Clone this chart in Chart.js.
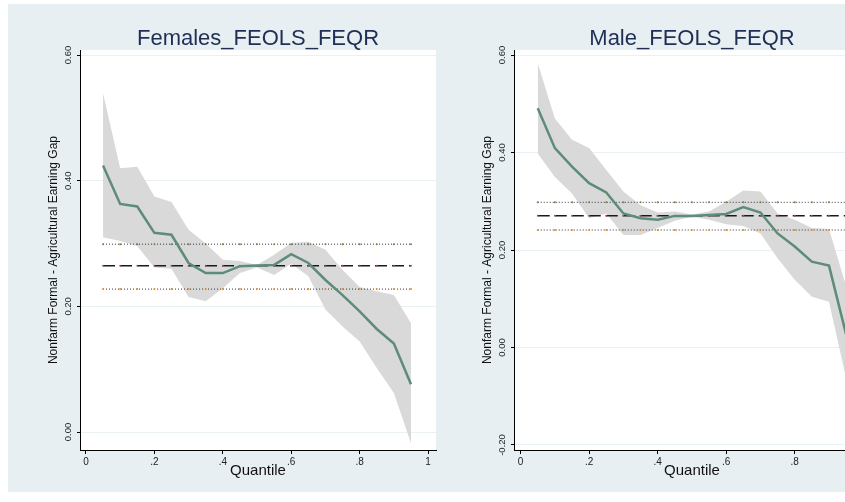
<!DOCTYPE html>
<html lang="en">
<head>
    <meta charset="UTF-8">
    <title>FEOLS vs FEQR earning gap</title>
    <script src="https://cdn.jsdelivr.net/npm/chart.js"></script>
    <style>
        html, body { margin: 0; background: #fff; overflow: hidden; width: 845px; height: 502px; }
        .panel { position: absolute; top: 4px; height: 488px; }
    </style>
</head>
<body>
    <div class="panel" style="left:8px;width:432px"><canvas id="fem" width="432" height="488"></canvas></div>
    <div class="panel" style="left:440px;width:434px"><canvas id="male" width="434" height="488"></canvas></div>
    <script>
        // quantiles used in the regressions
        const quantiles = [0.05, 0.10, 0.15, 0.20, 0.25, 0.30, 0.35, 0.40, 0.45, 0.50,
                           0.55, 0.60, 0.65, 0.70, 0.75, 0.80, 0.85, 0.90, 0.95];
        const xTicks = [0, 0.2, 0.4, 0.6, 0.8, 1];

        // Females: FEQR estimate and its confidence band
        const femEst = [0.424, 0.363, 0.359, 0.317, 0.314, 0.269, 0.253, 0.253, 0.264, 0.265,
                        0.266, 0.283, 0.269, 0.242, 0.218, 0.192, 0.164, 0.141, 0.076];
        const femHi  = [0.539, 0.420, 0.422, 0.375, 0.366, 0.322, 0.300, 0.274, 0.272, 0.266,
                        0.282, 0.301, 0.303, 0.290, 0.258, 0.231, 0.224, 0.218, 0.173];
        const femLo  = [0.310, 0.304, 0.296, 0.262, 0.260, 0.215, 0.208, 0.229, 0.253, 0.262,
                        0.250, 0.268, 0.248, 0.195, 0.168, 0.144, 0.102, 0.062, -0.018];
        // Females: FEOLS estimate and its bounds
        const femOls = 0.2646, femOlsHi = 0.299, femOlsLo = 0.2275;
        const femYTicks = [0, 0.2, 0.4, 0.6];

        // Males
        const maleEst = [0.491, 0.409, 0.371, 0.337, 0.318, 0.275, 0.265, 0.262, 0.270, 0.270,
                         0.272, 0.274, 0.288, 0.277, 0.234, 0.207, 0.176, 0.168, 0.027];
        const maleHi  = [0.583, 0.470, 0.426, 0.409, 0.364, 0.320, 0.292, 0.277, 0.279, 0.273,
                         0.279, 0.299, 0.322, 0.320, 0.275, 0.262, 0.245, 0.243, 0.126];
        const maleLo  = [0.398, 0.350, 0.316, 0.265, 0.275, 0.231, 0.231, 0.245, 0.260, 0.268,
                         0.262, 0.253, 0.249, 0.234, 0.183, 0.139, 0.104, 0.094, -0.063];
        const maleOls = 0.2704, maleOlsHi = 0.2978, maleOlsLo = 0.241;
        const maleYTicks = [-0.2, 0, 0.2, 0.4, 0.6];

        const FONT = '"Liberation Sans", Arial, sans-serif';

        // stata-like background + rotated y tick labels
        const stataPlugin = {
            id: 'stata',
            beforeDraw(chart) {
                const { ctx, chartArea: a } = chart;
                ctx.save();
                ctx.fillStyle = '#e8eff2';
                ctx.fillRect(0, 0, chart.width, chart.height);
                ctx.fillStyle = '#ffffff';
                ctx.fillRect(a.left, a.top, a.right - a.left, a.bottom - a.top);
                ctx.restore();
            },
            afterDraw(chart) {
                const s = chart.scales.y;
                const ctx = chart.ctx;
                ctx.save();
                ctx.font = '9.5px ' + FONT;
                ctx.fillStyle = '#222';
                ctx.textAlign = 'center';
                ctx.textBaseline = 'middle';
                s.ticks.forEach(t => {
                    ctx.save();
                    ctx.translate(s.right - 12, s.getPixelForValue(t.value));
                    ctx.rotate(-Math.PI / 2);
                    ctx.fillText(t.value.toFixed(2), 0, 0);
                    ctx.restore();
                });
                ctx.restore();
            }
        };

        function fmtX(v) {
            if (v === 0) return '0';
            if (v === 1) return '1';
            return String(+v.toFixed(1)).replace('0.', '.');
        }

        function makePanel(id, title, est, hi, lo, ols, olsHi, olsLo, yTicks, yMin, yMax, yAxisW, xMin, xMax, yTitlePad) {
            const pts = arr => quantiles.map((q, i) => ({ x: q, y: arr[i] }));
            const flat = v => quantiles.map(q => ({ x: q, y: v }));
            return new Chart(document.getElementById(id), {
                type: 'line',
                data: {
                    datasets: [
                        { data: pts(est), borderColor: '#5e8c7a', borderWidth: 2.5, pointRadius: 0, tension: 0, order: 0 },
                        { data: flat(ols), borderColor: '#1a1a1a', borderWidth: 1.4, borderDash: [12, 5], pointRadius: 0.9,
                          pointBorderWidth: 0, pointBackgroundColor: '#b84a4a', order: 1 },
                        { data: flat(olsHi), borderColor: '#333', borderWidth: 1, borderDash: [1, 2], pointRadius: 1,
                          pointBorderWidth: 0, pointBackgroundColor: '#6f8a3a', order: 1 },
                        { data: flat(olsLo), borderColor: '#333', borderWidth: 1, borderDash: [1, 2], pointRadius: 1,
                          pointBorderWidth: 0, pointBackgroundColor: '#e8901e', order: 1 },
                        { data: pts(hi), borderColor: 'rgba(0,0,0,0)', borderWidth: 0, pointRadius: 0,
                          fill: '+1', backgroundColor: '#d9d9d9', order: 2 },
                        { data: pts(lo), borderColor: 'rgba(0,0,0,0)', borderWidth: 0, pointRadius: 0, order: 2 }
                    ]
                },
                options: {
                    responsive: false,
                    animation: false,
                    layout: { padding: 0 },
                    plugins: {
                        legend: { display: false },
                        tooltip: { enabled: false },
                        title: {
                            display: true, text: title, color: '#1e2e55', fullSize: false,
                            font: { family: FONT, size: 22, weight: 'normal', lineHeight: 1 },
                            padding: { top: 24, bottom: 0 }
                        }
                    },
                    scales: {
                        x: {
                            type: 'linear', min: xMin, max: xMax,
                            afterBuildTicks: s => { s.ticks = xTicks.map(v => ({ value: v })); },
                            afterFit: s => { s.height = 42; },
                            grid: { drawOnChartArea: false, drawTicks: true, tickLength: 4, tickColor: '#000' },
                            border: { display: true, color: '#000', width: 1 },
                            ticks: { color: '#222', font: { family: FONT, size: 10 }, padding: 2,
                                     maxRotation: 0, autoSkip: false, callback: v => fmtX(v) },
                            title: { display: true, text: 'Quantile', color: '#111',
                                     font: { family: FONT, size: 15 }, padding: { top: 0, bottom: 12.3 } }
                        },
                        y: {
                            type: 'linear', min: yMin, max: yMax,
                            afterBuildTicks: s => { s.ticks = yTicks.map(v => ({ value: v })); },
                            afterFit: s => { s.width = yAxisW; },
                            grid: { color: '#e9f1f2', tickColor: '#000', tickLength: 3 },
                            border: { display: true, color: '#000', width: 1 },
                            ticks: { display: false },
                            title: { display: true, text: 'Nonfarm Formal - Agricultural Earning Gap', color: '#111',
                                     font: { family: FONT, size: 12 }, padding: { top: yTitlePad, bottom: 0 } }
                        }
                    }
                },
                plugins: [stataPlugin]
            });
        }

        makePanel('fem', 'Females_FEOLS_FEQR', femEst, femHi, femLo, femOls, femOlsHi, femOlsLo,
                  femYTicks, -0.0286, 0.608, 72, -0.01734, 1.0231, 38.8);
        makePanel('male', 'Male_FEOLS_FEQR', maleEst, maleHi, maleLo, maleOls, maleOlsHi, maleOlsLo,
                  maleYTicks, -0.2103, 0.6103, 74, -0.0193, 1.0197, 40.8);
    </script>
</body>
</html>
